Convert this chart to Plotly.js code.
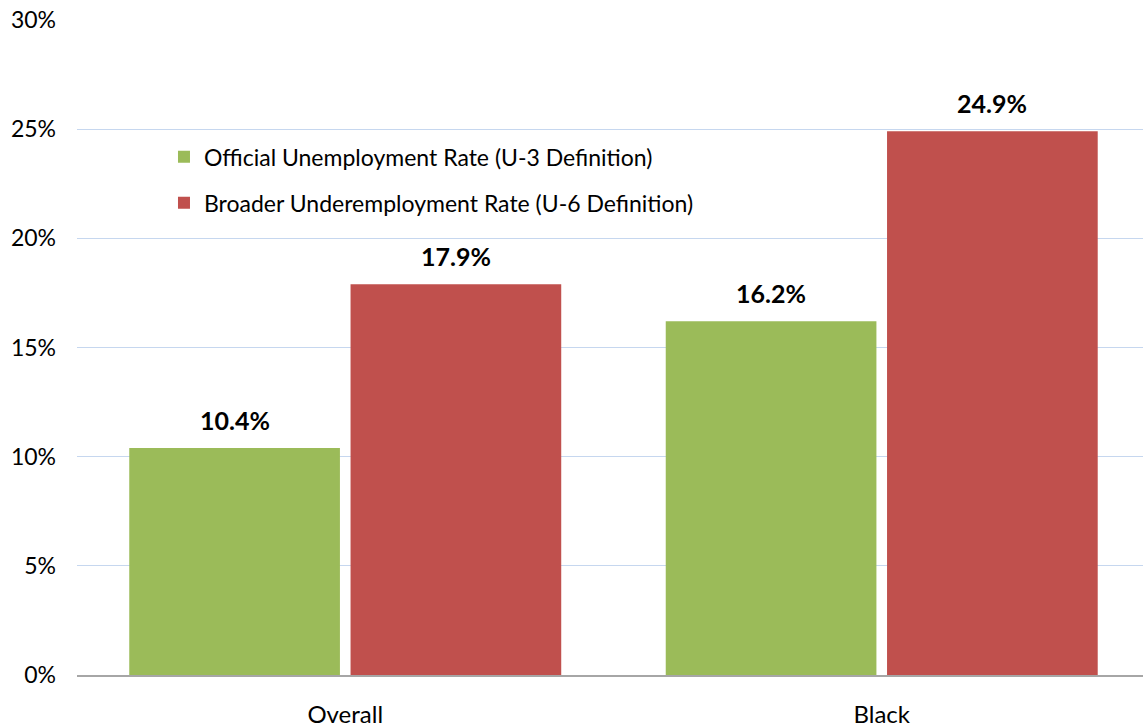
<!DOCTYPE html>
<html>
<head>
<meta charset="utf-8">
<script src="https://cdn.plot.ly/plotly-3.0.1.min.js"></script>
<style>html,body{margin:0;padding:0;background:#fff;}#chart{width:1143px;height:727px;}</style>
</head>
<body>
<div id="chart"></div>
<script>
const categories = ["Overall", "Black"];
const u3Values = [10.4, 16.2];
const u6Values = [17.9, 24.9];
const seriesNames = ["Official Unemployment Rate (U-3 Definition)", "Broader Underemployment Rate (U-6 Definition)"];
const yTickVals = [0, 5, 10, 15, 20, 25, 30];
const yTickText = ["0%", "5%", "10%", "15%", "20%", "25%", "30%"];

const FONT = "Lato, 'Open Sans', sans-serif";
const W = 1143, H = 727;
const M = {l: 77, r: 0, t: 20, b: 52};
const xRange = [-0.5, 1.487];
const BARGAP = 0.175;

const traces = [
  {
    type: "bar", name: seriesNames[0], x: categories, y: u3Values,
    marker: {color: "#9BBB59"}, legendgroup: "a", hoverinfo: "skip"
  },
  {
    type: "bar", name: seriesNames[1], x: categories, y: u6Values,
    marker: {color: "#C0504D"}, legendgroup: "b", hoverinfo: "skip"
  }
];

// Data labels above bars, horizontally offset to each bar's slot
const catPx = (W - M.l - M.r) / (xRange[1] - xRange[0]);
const slotPx = (1 - BARGAP) / 2 * catPx;
const annotations = [];
[u3Values, u6Values].forEach((vals, si) => {
  vals.forEach((v, ci) => {
    annotations.push({
      x: categories[ci], y: v, xref: "x", yref: "y",
      xshift: (si === 0 ? -0.5 : 0.5) * slotPx, yshift: 11,
      yanchor: "bottom", xanchor: "center", showarrow: false,
      text: v.toFixed(1) + "%",
      font: {family: FONT, size: 25, color: "#000", weight: "bold"}
    });
  });
});

const layout = {
  width: W, height: H,
  margin: M,
  paper_bgcolor: "#fff", plot_bgcolor: "#fff",
  font: {family: FONT, size: 23, color: "#000"},
  barmode: "group", bargap: BARGAP, bargroupgap: 0.048,
  xaxis: {
    type: "category", range: xRange,
    showgrid: false, showline: true, linecolor: "#A6A6A6", linewidth: 1.5,
    ticks: "", ticklabelstandoff: 18,
    tickfont: {family: FONT, size: 24, color: "#000"}, fixedrange: true
  },
  yaxis: {
    range: [0, 30], tickvals: yTickVals, ticktext: yTickText,
    showgrid: true, gridcolor: "#C6D7EF", gridwidth: 1, zeroline: false,
    showline: false, ticks: "", ticklabelstandoff: 20,
    tickfont: {family: FONT, size: 23, color: "#000"}, fixedrange: true
  },
  showlegend: true,
  legend: {
    x: 0.0816, y: 0.824, xanchor: "left", yanchor: "top",
    bgcolor: "rgba(0,0,0,0)", traceorder: "grouped", tracegroupgap: 13,
    font: {family: FONT, size: 23, color: "#000"}, itemwidth: 30
  },
  annotations: annotations
};

Plotly.newPlot("chart", traces, layout, {displayModeBar: false, staticPlot: true});
</script>
</body>
</html>
